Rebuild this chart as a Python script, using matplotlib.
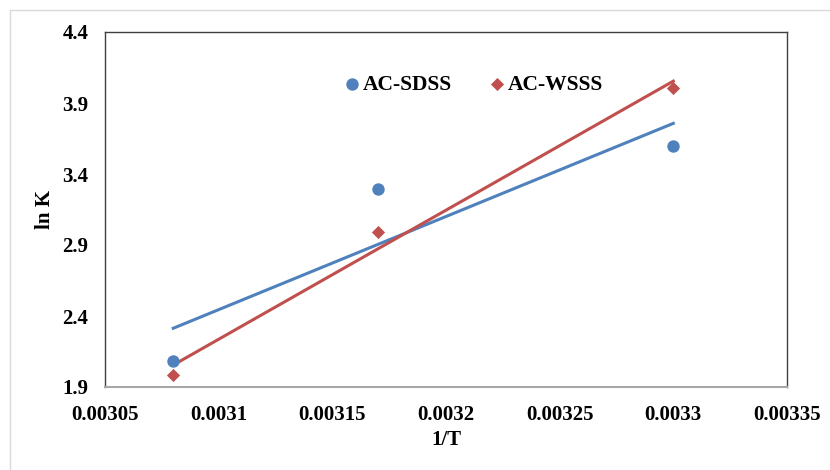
import numpy as np
import matplotlib
matplotlib.use("Agg")
import matplotlib.pyplot as plt
from matplotlib.patches import Rectangle

inv_T = [0.00308, 0.00317, 0.00330]
sdss = [2.083, 3.294, 3.597]
wsss = [1.985, 2.99, 4.006]
x_ticks = [0.00305, 0.0031, 0.00315, 0.0032, 0.00325, 0.0033, 0.00335]
x_labels = ["0.00305", "0.0031", "0.00315", "0.0032", "0.00325", "0.0033", "0.00335"]
y_ticks = [1.9, 2.4, 2.9, 3.4, 3.9, 4.4]
y_labels = ["1.9", "2.4", "2.9", "3.4", "3.9", "4.4"]

blue = "#4F81BD"
red = "#C0504D"

plt.rcParams['font.family'] = ['Liberation Serif', 'DejaVu Serif']
W, H = 830, 470
fig = plt.figure(figsize=(W/100, H/100), dpi=100)
ax = fig.add_axes([105/W, 1-387/H, (787-105)/W, (387-32)/H])

# outer chart-area border (cropped at right/bottom)
fig.patches.append(Rectangle((10/W, -0.1), 1.2, 1-10/H+0.1, transform=fig.transFigure,
                             fill=False, edgecolor="#D9D9D9", linewidth=1.0))

x = np.array(inv_T)
for ys, col in [(sdss, blue), (wsss, red)]:
    m, b = np.polyfit(x, np.array(ys), 1)
    ax.plot(x[[0, -1]], m * x[[0, -1]] + b, color=col, linewidth=2.2, zorder=2)

ax.scatter(inv_T, sdss, s=80, color=blue, marker='o', zorder=3, label="AC-SDSS", linewidths=0)
ax.scatter(inv_T, wsss, s=45, color=red, marker='D', zorder=3, label="AC-WSSS", linewidths=0)

ax.set_xlim(0.00305, 0.00335)
ax.set_ylim(1.9, 4.4)
ax.set_xticks(x_ticks)
ax.set_xticklabels(x_labels)
ax.set_yticks(y_ticks)
ax.set_yticklabels(y_labels)
ax.tick_params(axis='both', length=0, labelsize=15)
for lab in ax.get_xticklabels() + ax.get_yticklabels():
    lab.set_fontweight('bold')
ax.tick_params(axis='x', pad=13)
ax.tick_params(axis='y', pad=12)

for side in ['top', 'right', 'left']:
    ax.spines[side].set_color("#404040")
    ax.spines[side].set_linewidth(1.0)
ax.spines['bottom'].set_color("#A6A6A6")
ax.spines['bottom'].set_linewidth(1.5)

ax.set_xlabel("1/T", fontsize=15, fontweight='bold')
ax.set_ylabel("ln K", fontsize=15, fontweight='bold')
ax.xaxis.set_label_coords((446-105)/(787-105), -(440-387)/(387-32))
ax.yaxis.set_label_coords(-(105-45)/(787-105), 0.5)
ax.xaxis.label.set_va('center')
ax.yaxis.label.set_va('center')

leg = ax.legend(loc='center', bbox_to_anchor=((472-105)/(787-105), 1-(85-32)/(387-32)),
                ncol=2, frameon=False, prop={'weight': 'bold', 'size': 15.5},
                handletextpad=0.0, columnspacing=1.6, handlelength=1.0)

fig.savefig("out.png", dpi=100)
